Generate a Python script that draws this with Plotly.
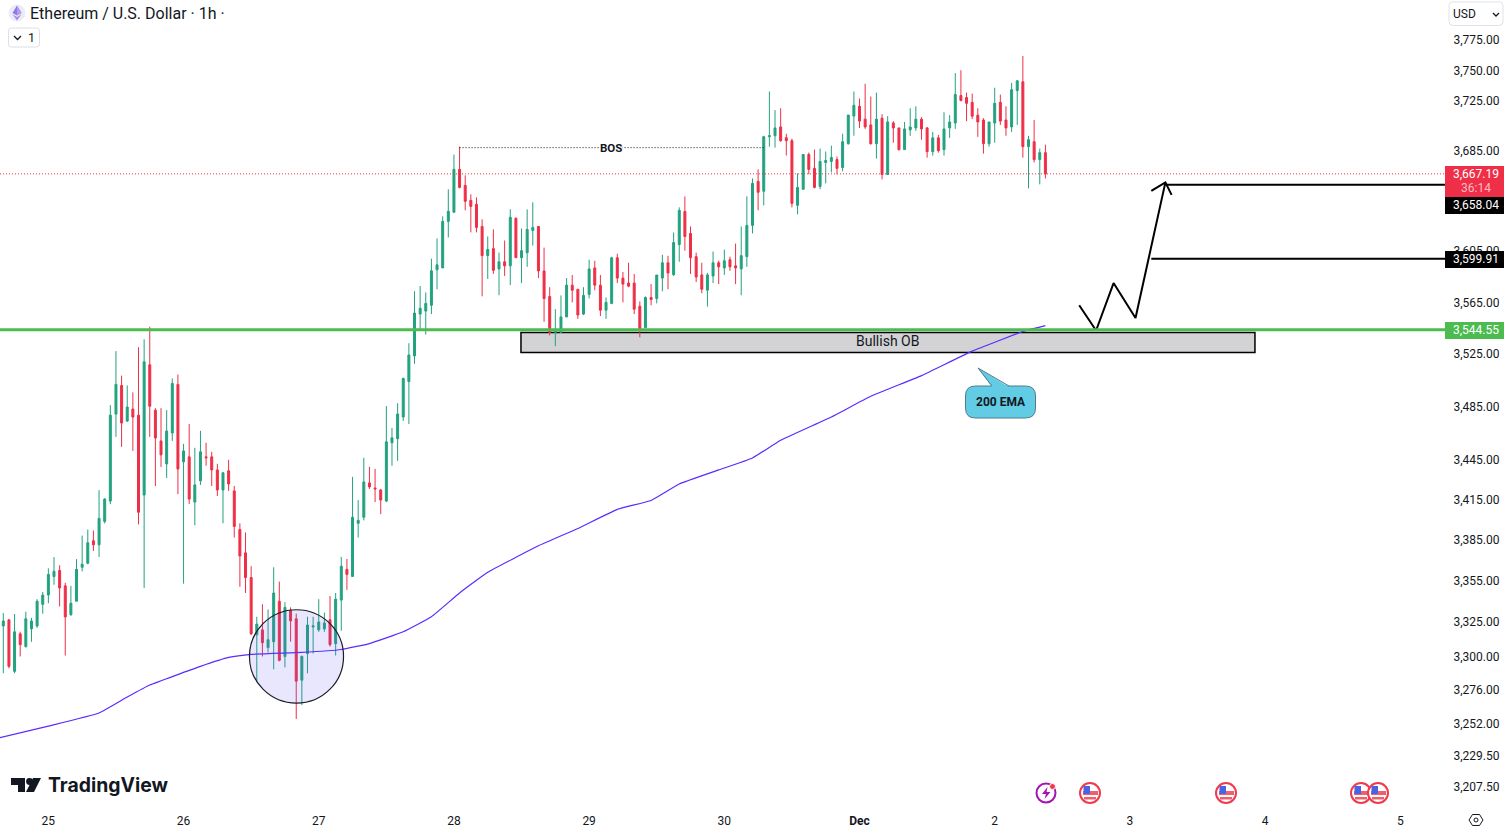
import math
import pandas as pd
import plotly.graph_objects as go

# ---------- data ----------
START = "2024-11-24 16:00"
opens = [3321.4,3325.8,3288.7,3315.7,3306.5,3319.3,3321.4,3337.1,3343.9,3357.4,
3361.9,3350.6,3329.6,3339.4,3364.2,3367.2,3383.7,3380.7,3398.0,3413.1,
3478.5,3500.3,3473.2,3482.3,3477.7,3417.6,3516.1,3481.5,3458.2,3440.9,
3464.2,3501.1,3442.5,3446.2,3412.4,3428.2,3446.2,3446.2,3436.4,3421.4,
3435.7,3420.7,3392.1,3374.8,3356.7,3315.0,3318.6,3305.8,3310.0,3339.4,
3299.4,3332.7,3326.6,3282.4,3301.5,3320.7,3318.6,3319.3,3325.9,3308.6,
3340.2,3362.7,3357.5,3396.6,3401.1,3426.7,3422.9,3421.4,3413.1,3456.8,
3459.8,3476.3,3503.3,3522.9,3555.2,3557.5,3562.0,3589.7,3591.2,3627.8,
3635.0,3669.2,3656.4,3644.5,3641.3,3623.8,3600.8,3606.3,3590.4,3596.0,
3592.8,3630.2,3599.1,3603.1,3620.6,3623.8,3588.8,3568.9,3541.0,3541.0,
3553.0,3577.7,3574.5,3555.2,3570.5,3591.2,3577.7,3558.2,3563.5,3599.1,
3583.2,3579.3,3579.3,3561.3,3544.7,3568.1,3567.3,3583.2,3595.2,3585.9,
3609.5,3635.7,3618.3,3600.0,3585.7,3573.8,3584.9,3595.2,3591.2,3597.6,
3592.8,3590.4,3600.0,3624.6,3659.6,3651.7,3695.4,3696.2,3703.3,3694.6,
3692.2,3640.5,3653.3,3681.1,3670.0,3655.6,3674.7,3675.5,3677.1,3670.7,
3689.8,3712.1,3720.0,3709.6,3704.9,3689.8,3710.4,3665.1,3706.5,3702.5,
3685.0,3700.9,3702.5,3709.6,3702.5,3683.4,3694.5,3685.0,3702.5,3706.5,
3728.7,3727.1,3723.2,3712.8,3708.9,3689.8,3706.5,3723.2,3708.9,3703.3,
3732.7,3739.9,3687.4,3691.4,3677.0,3682.6]
highs = [3330.8,3326.6,3330.1,3317.2,3331.8,3327.3,3340.9,3346.1,3363.4,3371.7,
3365.7,3352.9,3350.6,3370.2,3387.5,3392.0,3391.3,3421.3,3415.3,3485.3,
3526.6,3507.8,3500.3,3495.0,3529.6,3535.7,3545.4,3483.0,3483.0,3481.5,
3505.6,3508.6,3456.0,3471.0,3453.0,3465.8,3456.8,3450.0,3441.0,3434.9,
3444.0,3424.4,3396.6,3389.8,3365.0,3328.1,3337.2,3333.4,3364.2,3353.7,
3338.7,3334.9,3330.4,3300.1,3328.1,3328.1,3340.9,3331.1,3343.2,3345.4,
3371.8,3370.3,3431.2,3413.9,3445.5,3438.7,3437.2,3422.2,3484.6,3468.0,
3486.8,3506.3,3532.7,3573.0,3577.0,3572.0,3598.4,3614.3,3631.8,3653.3,
3681.0,3687.4,3664.4,3649.3,3646.9,3629.4,3615.9,3621.5,3603.2,3612.7,
3637.4,3631.0,3622.2,3637.3,3642.9,3623.8,3607.1,3576.1,3559.0,3569.7,
3583.2,3585.6,3574.5,3576.1,3597.6,3596.8,3585.6,3568.1,3599.9,3602.3,
3588.0,3595.2,3586.4,3565.0,3568.9,3578.5,3585.6,3601.5,3600.7,3619.0,
3638.9,3647.6,3623.8,3603.2,3595.2,3587.3,3604.0,3596.8,3605.5,3600.0,
3610.3,3623.8,3647.7,3662.0,3669.2,3696.2,3732.0,3716.9,3718.4,3697.8,
3693.8,3666.0,3681.1,3682.7,3685.0,3685.8,3683.5,3688.2,3679.5,3697.8,
3712.9,3732.0,3726.3,3738.3,3727.9,3731.1,3713.6,3712.0,3708.0,3702.5,
3707.3,3718.4,3720.0,3711.2,3703.3,3699.3,3696.9,3715.2,3712.8,3747.0,
3749.4,3731.1,3730.3,3718.4,3710.4,3707.3,3735.1,3729.5,3720.0,3739.0,
3741.4,3761.0,3696.1,3708.9,3685.8,3689.0]
lows = [3287.3,3290.9,3287.3,3299.4,3305.8,3310.0,3320.0,3330.3,3337.9,3351.4,
3335.6,3300.1,3328.8,3339.4,3361.2,3366.4,3376.2,3371.7,3396.5,3410.8,
3461.2,3453.7,3472.5,3450.7,3395.8,3349.1,3461.2,3424.3,3438.6,3430.4,
3458.2,3418.3,3352.2,3410.9,3395.1,3425.2,3439.5,3424.4,3416.9,3396.6,
3420.7,3386.1,3349.9,3345.4,3315.0,3280.9,3299.4,3302.2,3290.2,3295.9,
3291.6,3310.0,3254.7,3264.6,3287.3,3301.5,3317.2,3317.2,3306.5,3300.1,
3317.9,3347.7,3357.5,3386.1,3398.8,3422.2,3412.4,3403.4,3412.4,3439.5,
3443.2,3473.3,3471.0,3516.9,3543.2,3539.4,3555.2,3574.5,3591.2,3615.1,
3635.0,3654.0,3636.6,3619.1,3619.1,3569.0,3582.5,3586.5,3569.8,3584.9,
3577.7,3599.2,3579.3,3592.0,3608.7,3583.2,3549.2,3538.7,3530.4,3541.0,
3553.0,3564.3,3551.5,3554.5,3567.3,3573.7,3553.7,3551.5,3562.8,3579.3,
3564.3,3576.1,3555.2,3537.2,3544.7,3562.0,3563.5,3572.9,3574.5,3584.8,
3596.0,3604.7,3586.5,3580.1,3571.4,3561.0,3579.3,3578.5,3585.7,3588.9,
3578.5,3569.8,3592.0,3618.3,3636.6,3640.5,3687.4,3686.6,3691.4,3680.3,
3638.9,3633.4,3653.3,3665.2,3654.0,3653.3,3658.0,3666.8,3665.2,3667.6,
3689.0,3696.2,3702.5,3701.7,3689.0,3677.8,3661.2,3665.1,3690.6,3684.2,
3685.0,3696.1,3700.1,3693.0,3678.6,3680.2,3682.6,3680.2,3694.5,3701.7,
3724.0,3708.0,3709.6,3695.3,3681.8,3687.4,3690.6,3704.9,3696.1,3699.3,
3704.9,3678.6,3654.0,3674.7,3657.2,3661.9]
closes = [3325.0,3292.3,3317.2,3307.9,3326.6,3325.0,3339.4,3343.9,3358.9,3361.2,
3349.1,3328.0,3337.9,3362.7,3366.4,3382.2,3380.7,3400.3,3414.6,3477.7,
3501.1,3471.7,3483.8,3476.2,3404.8,3518.4,3484.5,3460.4,3447.7,3465.7,
3501.8,3437.1,3450.7,3414.6,3425.2,3450.0,3445.5,3436.4,3421.4,3434.2,
3425.9,3394.3,3372.5,3356.7,3315.7,3322.8,3309.3,3311.5,3345.4,3296.6,
3334.9,3325.1,3281.7,3299.4,3322.1,3321.4,3324.3,3323.6,3307.9,3340.9,
3365.0,3359.0,3401.1,3398.8,3427.4,3423.7,3422.2,3413.9,3457.5,3460.5,
3478.6,3505.6,3523.6,3556.0,3559.7,3563.5,3588.9,3593.6,3627.8,3635.8,
3669.2,3654.8,3643.7,3639.7,3623.0,3600.8,3605.6,3589.3,3596.0,3592.8,
3631.0,3599.2,3604.7,3621.4,3623.0,3588.8,3567.3,3541.0,3543.2,3553.0,
3577.7,3573.7,3554.5,3569.7,3590.4,3577.7,3558.2,3564.3,3599.1,3583.2,
3578.5,3576.9,3559.0,3544.0,3568.1,3566.5,3585.6,3595.2,3587.2,3611.1,
3636.5,3615.8,3599.2,3584.1,3574.5,3585.7,3595.2,3592.0,3596.8,3592.0,
3591.2,3600.8,3624.6,3658.0,3650.9,3695.4,3696.2,3702.5,3692.2,3692.2,
3642.1,3654.8,3681.1,3669.2,3654.8,3675.5,3676.3,3678.7,3670.0,3691.4,
3712.9,3720.8,3708.0,3703.3,3689.8,3709.6,3665.1,3707.3,3702.5,3685.0,
3701.7,3703.3,3709.6,3701.7,3683.4,3694.5,3684.2,3701.7,3707.3,3729.5,
3724.8,3722.4,3712.0,3707.3,3689.8,3707.3,3722.4,3708.0,3702.5,3733.5,
3740.7,3687.4,3693.0,3677.0,3682.6,3665.6]

ema_idx = [-1,8,17,22,26,35,40,44,53,60,65,71,76,81,86,95,102,109,115,120,127,133,138,147,154,163,172,181,185]
ema_val = [3241.2,3249.7,3259.0,3270.3,3278.9,3292.3,3298.7,3300.9,3302.3,3304.4,3308.7,3317.2,3328.1,3345.4,3360.5,
           3380.0,3392.8,3407.0,3413.6,3425.9,3436.4,3445.4,3458.7,3476.3,3492.0,3507.8,3526.6,3541.7,3546.2]

proj_idx = [191,194,197.1,201,206.3]
proj_val = [3562.0,3542.5,3579.3,3552.2,3658.8]
head_idx = [203.8,206.3,207.4]
head_val = [3652.0,3658.8,3648.8]

price_ticks = [3775,3750,3725,3685,3605,3565,3525,3485,3445,3415,3385,3355,3325,3300,3276,3252,3229.5,3207.5]
day_idx = [8,32,56,80,104,128,152,176,200,224,248]
day_lbl = ["25","26","27","28","29","30","<b>Dec</b>","2","3","4","5"]

last_price = 3667.19
level_a = 3658.04
level_b = 3599.91
level_green = 3544.55
# the drawn lines sit a hair below their tag values in the reference
last_line = 3665.6
level_a_line = 3656.8
level_b_line = 3598.3
level_green_line = 3543.0
bos_price = 3686.6
ob_top, ob_bottom = 3541.0, 3525.6
ob_start, ob_end = 91.9, 222.2
circle_idx = (43.7, 60.4)
circle_val = (3266.0, 3333.2)

# ---------- geometry ----------
W, H = 1506, 831
PW, PH = 1445, 808
INK = "#131722"
GREEN = "#22A27F"
RED = "#EE2F47"
FONT = "Roboto"

times = pd.date_range(START, periods=len(opens), freq="h")
t0 = pd.Timestamp(START)
def T(i):
    return (t0 + pd.Timedelta(hours=float(i))).strftime("%Y-%m-%d %H:%M:%S")

ppd = 747 / (math.log10(3775) - math.log10(3207.5))
yr = [math.log10(3207.5) - (PH - 786) / ppd, math.log10(3775) + 39 / ppd]
xr = [T(-3.3 / 5.633), T((PW - 3.3) / 5.633)]

px = lambda x: x / PW
py = lambda y: 1 - y / PH

shapes, annos = [], []

def path(d, fill=None, line=None, lw=1, layer="above"):
    shapes.append(dict(type="path", xref="paper", yref="paper", path=d, layer=layer,
                       fillcolor=fill or "rgba(0,0,0,0)",
                       line=dict(color=line or "rgba(0,0,0,0)", width=lw if line else 0)))

def poly(pts, close=True):
    s = "M " + " L ".join(f"{px(x):.6f},{py(y):.6f}" for x, y in pts)
    return s + (" Z" if close else "")

def rrect(x0, y0, x1, y1, r):
    P = lambda x, y: f"{px(x):.6f},{py(y):.6f}"
    return (f"M {P(x0+r,y0)} L {P(x1-r,y0)} Q {P(x1,y0)} {P(x1,y0+r)} L {P(x1,y1-r)} Q {P(x1,y1)} {P(x1-r,y1)} "
            f"L {P(x0+r,y1)} Q {P(x0,y1)} {P(x0,y1-r)} L {P(x0,y0+r)} Q {P(x0,y0)} {P(x0+r,y0)} Z")

def circ(cx, cy, r, fill=None, line=None, lw=1):
    shapes.append(dict(type="circle", xref="paper", yref="paper", x0=px(cx-r), x1=px(cx+r),
                       y0=py(cy+r), y1=py(cy-r), fillcolor=fill or "rgba(0,0,0,0)",
                       line=dict(color=line or "rgba(0,0,0,0)", width=lw if line else 0)))

def rect(x0, y0, x1, y1, fill):
    shapes.append(dict(type="rect", xref="paper", yref="paper", x0=px(x0), x1=px(x1),
                       y0=py(y1), y1=py(y0), fillcolor=fill, line=dict(width=0)))

def text(x, y, s, size=12, color=INK, anchor="center", family=FONT, bg=None):
    annos.append(dict(xref="paper", yref="paper", x=px(x), y=py(y), text=s, showarrow=False,
                      xanchor=anchor, yanchor="middle", bgcolor=bg, borderpad=0,
                      font=dict(family=family, size=size, color=color)))

def hline(price, i0, i1, color, width, dash="solid", layer="above"):
    d = dict(type="line", xref="x", yref="y", y0=price, y1=price,
             line=dict(color=color, width=width, dash=dash), layer=layer)
    d["x0"], d["x1"] = T(i0), T(i1)
    shapes.append(d)

RIGHT = (PW - 3.3) / 5.633
LEFT = -3.3 / 5.633

# order block
shapes.append(dict(type="rect", xref="x", yref="y", x0=T(ob_start), x1=T(ob_end), y0=ob_bottom, y1=ob_top,
                   fillcolor="#D3D3D5", line=dict(color="#000000", width=1.5), layer="below"))
text(887.5, 341, "Bullish OB", size=14)

# levels
hline(last_line, LEFT, RIGHT, "#EE2F47", 1, "1px,2px")
hline(level_green_line, LEFT, RIGHT, "#4CBB50", 3)
hline(level_a_line, 206.3, RIGHT, "#000000", 2)
hline(level_b_line, 203.8, RIGHT, "#000000", 2)
hline(bos_price, 81, 135, "#111111", 1, "1px,2px")
text(611, 148, "<b>BOS</b>", size=11.5, bg="#FFFFFF")

# swept-liquidity circle
shapes.append(dict(type="circle", xref="x", yref="y", x0=T(circle_idx[0]), x1=T(circle_idx[1]),
                   y0=circle_val[0], y1=circle_val[1], fillcolor="rgba(103,92,240,0.15)",
                   line=dict(color="#1c1c28", width=1.2), layer="above"))

# 200 EMA callout
path(f"{rrect(965.5,386,1035.5,418,10)}", fill="#62CCE5", line="#4F7C8C", lw=1)
path(poly([(992,387),(978,368),(1009,387)]), fill="#62CCE5")
path(poly([(992,386),(978,368),(1009,386)], close=False), line="#4F7C8C", lw=1)
text(1001, 402, "<b>200 EMA</b>", size=12)

# price tags
rect(1445, 166, 1504, 197, "#EE2F47")
text(1476, 174, f"{last_price:,.2f}", color="#FFFFFF")
text(1476, 188, "36:14", color="#FFB9C2")
rect(1445, 197, 1504, 214, "#000000")
text(1476, 205, f"{level_a:,.2f}", color="#FFFFFF")
rect(1445, 251, 1504, 268, "#000000")
text(1476, 259, f"{level_b:,.2f}", color="#FFFFFF")
rect(1445, 322, 1504, 339, "#4CBB50")
text(1476, 330, f"{level_green:,.2f}", color="#FFFFFF")

# header
text(29, 13, "Ethereum / U.S. Dollar · 1h ·", size=16, anchor="left")
circ(17, 13, 8.5, fill="#ECEBFA")
path(poly([(17,5.5),(21.5,13),(17,15.5),(12.5,13)]), fill="#8A7BE8")
path(poly([(17,5.5),(21.5,13),(17,15.5)]), fill="#B49CF0")
path(poly([(12.5,14.2),(17,17),(21.5,14.2),(17,20.5)]), fill="#A88CE8")
path(rrect(8.5,28,39.5,47,3), line="#DCDFE8", lw=1)
path(poly([(14,36),(17.5,39.5),(21,36)], close=False), line=INK, lw=1.3)
text(31, 37.5, "1", size=12.5)
path(rrect(1449,2,1503,25.5,4), fill="#FFFFFF", line="#E0E3EB", lw=1)
text(1452, 14, "USD", size=12, anchor="left")
path(poly([(1493,13),(1496,16),(1499,13)], close=False), line=INK, lw=1.3)

# logo
path(poly([(11,778),(25,778),(25,792),(18,792),(18,785),(11,785)]), fill=INK)
circ(29.5, 781.5, 3.4, fill=INK)
path(poly([(33,778),(41,778),(34,792),(26,792)]), fill=INK)
text(46.5, 785, "<b>TradingView</b>", size=19.4, anchor="left", family="Inter")

# event icons
def flag(cx, cy):
    circ(cx, cy, 10, fill="#FFFFFF", line="#F0394B", lw=2)
    rect(cx-7, cy-2, cx+8, cy+2, "#F0606C")
    rect(cx-6, cy+4, cx+6, cy+6.5, "#F0606C")
    rect(cx-6.5, cy-7, cx, cy+1, "#4A63E0")

for cx in (1090, 1226, 1361, 1378):
    flag(cx, 793)
circ(1046, 793, 9.5, fill="#FFFFFF", line="#A513B5", lw=2)
path(poly([(1047.5,787),(1042,794),(1046,794),(1044.5,799),(1050.5,792),(1046.5,792)]), fill="#A513B5")
circ(1052.5, 786.5, 3, fill="#F0394B", line="#FFFFFF", lw=1)

# settings glyph
path(poly([(1469,820),(1472.5,814.5),(1479.5,814.5),(1483,820),(1479.5,825.5),(1472.5,825.5)]), line=INK, lw=1)
circ(1476, 820, 2, line=INK, lw=1)

# ---------- traces ----------
fig = go.Figure()
fig.add_trace(go.Scatter(x=[T(i) for i in ema_idx], y=ema_val, mode="lines", hoverinfo="skip",
                         line=dict(color="#5A2BFF", width=1.2, shape="spline", smoothing=0.35)))
fig.add_trace(go.Candlestick(x=times, open=opens, high=highs, low=lows, close=closes,
                             increasing=dict(line=dict(color=GREEN, width=1), fillcolor=GREEN),
                             decreasing=dict(line=dict(color=RED, width=1), fillcolor=RED),
                             whiskerwidth=0, hoverinfo="skip"))
fig.add_trace(go.Scatter(x=[T(i) for i in proj_idx], y=proj_val, mode="lines", hoverinfo="skip",
                         line=dict(color="#000000", width=2)))
fig.add_trace(go.Scatter(x=[T(i) for i in head_idx], y=head_val, mode="lines", hoverinfo="skip",
                         line=dict(color="#000000", width=2)))

fig.update_layout(
    width=W, height=H, autosize=False, showlegend=False,
    margin=dict(l=0, r=W-PW, t=0, b=H-PH, pad=0),
    paper_bgcolor="#FFFFFF", plot_bgcolor="#FFFFFF",
    boxgap=0.5,
    font=dict(family=FONT, size=12, color=INK),
    shapes=shapes, annotations=annos, hovermode=False,
    xaxis=dict(type="date", range=xr, rangeslider=dict(visible=False), showgrid=False, zeroline=False,
               showline=False, tickmode="array", tickvals=[T(i) for i in day_idx], ticktext=day_lbl,
               ticks="outside", ticklen=2, tickcolor="rgba(0,0,0,0)", tickangle=0,
               tickfont=dict(family=FONT, size=12, color=INK)),
    yaxis=dict(type="log", range=yr, side="right", showgrid=False, zeroline=False, showline=False,
               tickmode="array", tickvals=[v * (1 - 1 / 4585) for v in price_ticks],
               ticktext=[f"{v:,.2f}" for v in price_ticks],
               ticks="outside", ticklen=5, tickcolor="rgba(0,0,0,0)",
               tickfont=dict(family=FONT, size=12, color=INK)),
)
fig.write_html("out.html", config=dict(displayModeBar=False, responsive=False),
               post_script="document.documentElement.style.margin='0';document.body.style.margin='0';document.body.style.overflow='hidden';")
